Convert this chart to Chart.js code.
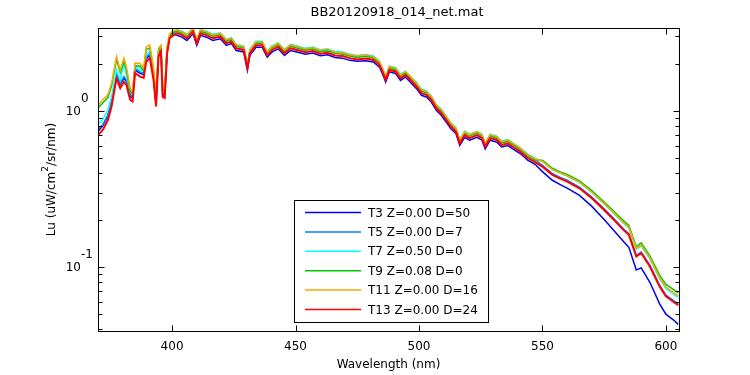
<!DOCTYPE html>
<html>
<head>
<meta charset="utf-8">
<script src="https://cdn.jsdelivr.net/npm/chart.js@4.4.1/dist/chart.umd.min.js"></script>
<style>
  html, body { margin: 0; padding: 0; background: #fff; }
  canvas { display: block; }
</style>
</head>
<body>
<canvas id="chart" width="750" height="375"></canvas>
<script>
// Wavelength grid (nm), shared by every series
const wavelengths = [370, 372, 374, 375.5, 377.5, 379, 380.5, 381.5, 383, 384, 385, 387, 388.5, 389.5, 391, 392.5, 393.5, 394.5, 395.5, 396.2, 397, 398, 399, 400.5,
  402, 404, 406, 408.5, 410, 411.5, 414, 416.5, 419.5, 422, 424, 426, 429, 430.5, 431.5, 434, 436.5, 438.5, 440.5, 443, 445.5, 448, 451, 454, 457, 460, 463, 466, 469, 472, 475, 478.5, 481.5, 484, 485.5, 486.5, 488, 490.5, 492.5, 494.5, 496.5, 499, 501, 503, 505, 507, 509, 511, 513, 515, 516.5, 518.5, 520.5, 523.5, 525.5, 526.8, 528.8, 531.5, 533.5, 536, 538, 541, 544, 547,
  550, 554, 557, 560, 565, 570, 575, 579, 583, 585, 588, 590, 593.5, 597.5, 600, 603, 605];

// Lu values (uW/cm^2/sr/nm)
const t3 = [0.74, 0.81, 0.93, 1.13, 1.70, 1.48, 1.62, 1.55, 1.24, 1.21, 1.83, 1.74, 1.71, 2.16, 2.28, 1.64, 1.10, 2.30, 2.48, 1.26, 1.24, 2.40, 2.97, 3.10,
  3.05, 2.97, 2.83, 3.12, 2.63, 3.05, 2.97, 2.83, 2.90, 2.63, 2.70, 2.44, 2.39, 1.82, 2.27, 2.56, 2.56, 2.21, 2.39, 2.50,
  2.27, 2.44, 2.38, 2.31, 2.35, 2.26, 2.29, 2.20, 2.18, 2.11, 2.08, 2.10, 2.06, 1.91, 1.69, 1.53, 1.78, 1.74, 1.57, 1.65,
  1.53, 1.39, 1.26, 1.23, 1.14, 1.01, 0.938, 0.850, 0.766, 0.715, 0.601, 0.679, 0.650, 0.679, 0.650, 0.572, 0.650, 0.632, 0.588, 0.601,
  0.572, 0.534, 0.485, 0.456,
  0.409, 0.360, 0.339, 0.321, 0.288, 0.245, 0.202, 0.171, 0.145, 0.134, 0.096, 0.099, 0.080, 0.058, 0.050, 0.046, 0.043];

const t5 = [0.76, 0.82, 0.94, 1.15, 1.74, 1.50, 1.66, 1.58, 1.27, 1.24, 1.87, 1.78, 1.75, 2.21, 2.32, 1.68, 1.14, 2.36, 2.53, 1.30, 1.28, 2.45, 3.02, 3.15,
  3.27, 3.18, 3.04, 3.35, 2.82, 3.27, 3.18, 3.04, 3.11, 2.82, 2.89, 2.62, 2.56, 1.96, 2.43, 2.75, 2.75, 2.37, 2.56, 2.68,
  2.43, 2.62, 2.55, 2.48, 2.52, 2.42, 2.45, 2.36, 2.34, 2.27, 2.23, 2.26, 2.20, 2.05, 1.81, 1.64, 1.90, 1.86, 1.68, 1.77,
  1.64, 1.49, 1.35, 1.32, 1.23, 1.08, 1.01, 0.911, 0.822, 0.766, 0.645, 0.728, 0.697, 0.728, 0.697, 0.614, 0.697, 0.678, 0.630, 0.645,
  0.614, 0.572, 0.520, 0.489,
  0.449, 0.398, 0.377, 0.360, 0.326, 0.281, 0.236, 0.204, 0.175, 0.164, 0.119, 0.125, 0.103, 0.0765, 0.0663, 0.0612, 0.0581];

const t7 = [0.82, 0.89, 1.01, 1.23, 1.83, 1.57, 2.03, 1.70, 1.33, 1.29, 1.95, 1.84, 1.80, 2.30, 2.40, 1.74, 1.17, 2.42, 2.58, 1.33, 1.31, 2.50, 3.05, 3.20,
  3.33, 3.24, 3.10, 3.41, 2.87, 3.33, 3.24, 3.10, 3.17, 2.87, 2.95, 2.67, 2.61, 1.99, 2.48, 2.80, 2.80, 2.42, 2.61, 2.73,
  2.48, 2.67, 2.60, 2.52, 2.57, 2.47, 2.50, 2.41, 2.39, 2.31, 2.27, 2.30, 2.25, 2.09, 1.84, 1.67, 1.94, 1.90, 1.72, 1.80,
  1.67, 1.52, 1.38, 1.35, 1.25, 1.10, 1.03, 0.929, 0.837, 0.781, 0.657, 0.742, 0.710, 0.742, 0.710, 0.625, 0.710, 0.691, 0.642, 0.657,
  0.625, 0.583, 0.530, 0.498,
  0.475, 0.422, 0.401, 0.383, 0.348, 0.301, 0.254, 0.220, 0.190, 0.178, 0.130, 0.137, 0.113, 0.0840, 0.0730, 0.0673, 0.0640];

const t9 = [1.04, 1.13, 1.22, 1.45, 2.14, 1.76, 2.09, 1.84, 1.35, 1.28, 1.95, 1.94, 1.81, 2.48, 2.54, 1.83, 1.20, 2.43, 2.54, 1.37, 1.35, 2.50, 3.02, 3.20,
  3.23, 3.15, 3.01, 3.32, 2.79, 3.23, 3.15, 3.01, 3.08, 2.79, 2.86, 2.60, 2.53, 1.94, 2.41, 2.72, 2.72, 2.35, 2.53, 2.66,
  2.41, 2.60, 2.52, 2.45, 2.49, 2.40, 2.43, 2.34, 2.32, 2.25, 2.20, 2.24, 2.18, 2.03, 1.79, 1.63, 1.88, 1.84, 1.67, 1.75,
  1.63, 1.47, 1.34, 1.31, 1.22, 1.07, 0.996, 0.902, 0.814, 0.759, 0.639, 0.721, 0.690, 0.721, 0.690, 0.608, 0.690, 0.672, 0.624, 0.639,
  0.608, 0.567, 0.515, 0.484,
  0.484, 0.430, 0.409, 0.392, 0.357, 0.309, 0.261, 0.227, 0.197, 0.185, 0.135, 0.143, 0.118, 0.0885, 0.0775, 0.0720, 0.0685];

const t11 = [1.08, 1.18, 1.27, 1.51, 2.23, 1.83, 2.18, 1.92, 1.40, 1.33, 2.03, 2.02, 1.88, 2.58, 2.64, 1.90, 1.25, 2.53, 2.64, 1.42, 1.40, 2.60, 3.12, 3.28,
  3.30, 3.21, 3.07, 3.38, 2.85, 3.30, 3.21, 3.07, 3.14, 2.85, 2.92, 2.65, 2.58, 1.97, 2.46, 2.77, 2.77, 2.39, 2.58, 2.71,
  2.46, 2.65, 2.57, 2.50, 2.54, 2.45, 2.48, 2.38, 2.36, 2.29, 2.25, 2.28, 2.23, 2.07, 1.83, 1.66, 1.92, 1.88, 1.70, 1.79,
  1.66, 1.50, 1.37, 1.33, 1.24, 1.09, 1.02, 0.920, 0.830, 0.774, 0.651, 0.735, 0.704, 0.735, 0.704, 0.620, 0.704, 0.685, 0.636, 0.651,
  0.620, 0.578, 0.525, 0.494,
  0.475, 0.423, 0.402, 0.385, 0.350, 0.303, 0.256, 0.222, 0.192, 0.180, 0.132, 0.139, 0.115, 0.0855, 0.0745, 0.0690, 0.0655];

const t13 = [0.70, 0.76, 0.875, 1.07, 1.62, 1.40, 1.54, 1.47, 1.18, 1.15, 1.75, 1.66, 1.63, 2.07, 2.18, 1.58, 1.07, 2.23, 2.40, 1.23, 1.21, 2.35, 2.92, 3.06,
  3.14, 3.06, 2.92, 3.22, 2.71, 3.14, 3.06, 2.92, 2.99, 2.71, 2.78, 2.52, 2.46, 1.88, 2.34, 2.64, 2.64, 2.28, 2.46, 2.58,
  2.34, 2.52, 2.45, 2.38, 2.42, 2.33, 2.36, 2.27, 2.25, 2.18, 2.14, 2.17, 2.12, 1.97, 1.74, 1.58, 1.83, 1.79, 1.62, 1.70,
  1.58, 1.43, 1.30, 1.27, 1.18, 1.04, 0.967, 0.876, 0.79, 0.737, 0.62, 0.70, 0.67, 0.70, 0.67, 0.59, 0.67, 0.652, 0.606, 0.62,
  0.59, 0.55, 0.50, 0.47,
  0.44, 0.39, 0.37, 0.353, 0.32, 0.276, 0.232, 0.20, 0.172, 0.161, 0.117, 0.123, 0.101, 0.075, 0.065, 0.060, 0.057];

const seriesNames = ['T3 Z=0.00 D=50', 'T5 Z=0.00 D=7', 'T7 Z=0.50 D=0', 'T9 Z=0.08 D=0', 'T11 Z=0.00 D=16', 'T13 Z=0.00 D=24'];
const seriesValues = [t3, t5, t7, t9, t11, t13];
const seriesColors = ['#0000f0', '#0080ff', '#00ffff', '#00c800', '#ffa500', '#ff0000'];

// axis ticks
const xTicks = [400, 450, 500, 550, 600];
const yMajorTicks = [0.1, 1];
const yMinorTicks = [0.04, 0.05, 0.06, 0.07, 0.08, 0.09, 0.2, 0.3, 0.4, 0.5, 0.6, 0.7, 0.8, 0.9, 2, 3];
const yTickLabels = [['10', '-1'], ['10', '0']];

const FONT = '"DejaVu Sans", sans-serif';

// Build the datasets; last one (red) is drawn on top like in MATLAB
const datasets = seriesValues.map((vals, i) => ({
    label: seriesNames[i],
    data: wavelengths.map((w, j) => ({ x: w, y: vals[j] })),
    borderColor: seriesColors[i],
    backgroundColor: seriesColors[i],
    borderWidth: i === seriesValues.length - 1 ? 2 : 1.5,
    pointRadius: 0,
    fill: false,
    order: seriesValues.length - i
}));

// Draws the MATLAB-ish frame, inward ticks, labels and legend box
const matlabAxes = {
    id: 'matlabAxes',
    afterDraw(chart) {
        const ctx = chart.ctx;
        const area = chart.chartArea;
        const xs = chart.scales.x;
        const ys = chart.scales.y;
        const L = Math.round(area.left) + 0.5, R = Math.round(area.right) + 0.5;
        const T = Math.round(area.top) + 0.5, B = Math.round(area.bottom) + 0.5;

        ctx.save();
        ctx.strokeStyle = '#000';
        ctx.lineWidth = 1;
        ctx.strokeRect(L, T, R - L, B - T);

        ctx.beginPath();
        xTicks.forEach(v => {
            const px = Math.round(xs.getPixelForValue(v)) + 0.5;
            ctx.moveTo(px, B); ctx.lineTo(px, B - 6);
            ctx.moveTo(px, T); ctx.lineTo(px, T + 6);
        });
        yMajorTicks.forEach(v => {
            const py = Math.round(ys.getPixelForValue(v)) + 0.5;
            ctx.moveTo(L, py); ctx.lineTo(L + 6, py);
            ctx.moveTo(R, py); ctx.lineTo(R - 6, py);
        });
        yMinorTicks.forEach(v => {
            const py = Math.round(ys.getPixelForValue(v)) + 0.5;
            ctx.moveTo(L, py); ctx.lineTo(L + 4, py);
            ctx.moveTo(R, py); ctx.lineTo(R - 4, py);
        });
        ctx.stroke();

        // y tick labels 10^-1, 10^0
        ctx.fillStyle = '#000';
        ctx.font = '12px ' + FONT;
        ctx.textBaseline = 'middle';
        yMajorTicks.forEach((v, i) => {
            const py = ys.getPixelForValue(v);
            ctx.textAlign = 'right';
            ctx.fillText(yTickLabels[i][0], 81, py + 1);
            ctx.textAlign = 'left';
            ctx.fillText(yTickLabels[i][1], 81, py - 12);
        });

        // y axis title with superscript
        ctx.save();
        ctx.translate(52, (area.top + area.bottom) / 2);
        ctx.rotate(-Math.PI / 2);
        const p1 = 'Lu (uW/cm', p2 = '2', p3 = '/sr/nm)';
        ctx.font = '12px ' + FONT;
        const w1 = ctx.measureText(p1).width, w3 = ctx.measureText(p3).width;
        ctx.font = '9px ' + FONT;
        const w2 = ctx.measureText(p2).width;
        let sx = -(w1 + w2 + w3) / 2;
        ctx.textAlign = 'left';
        ctx.font = '12px ' + FONT;
        ctx.fillText(p1, sx, 0);
        ctx.font = '9px ' + FONT;
        ctx.fillText(p2, sx + w1, -6);
        ctx.font = '12px ' + FONT;
        ctx.fillText(p3, sx + w1 + w2, 0);
        ctx.restore();

        // x axis title and chart title
        ctx.textAlign = 'center';
        ctx.font = '12px ' + FONT;
        ctx.fillText('Wavelength (nm)', (area.left + area.right) / 2, 365);
        ctx.font = '13px ' + FONT;
        ctx.fillText('BB20120918_014_net.mat', 397, 13);

        // legend box
        const bx = 294.5, by = 200.5, bw = 194, bh = 122;
        ctx.fillStyle = '#fff';
        ctx.fillRect(bx, by, bw, bh);
        ctx.strokeStyle = '#000';
        ctx.strokeRect(bx, by, bw, bh);
        ctx.font = '12px ' + FONT;
        ctx.textAlign = 'left';
        seriesNames.forEach((name, i) => {
            const ly = 212.5 + i * 19.4;
            ctx.strokeStyle = seriesColors[i];
            ctx.lineWidth = 1.5;
            ctx.beginPath();
            ctx.moveTo(305, ly); ctx.lineTo(361, ly);
            ctx.stroke();
            ctx.fillStyle = '#000';
            ctx.fillText(name, 368, ly + 1);
        });
        ctx.restore();
    }
};

new Chart(document.getElementById('chart'), {
    type: 'line',
    data: { datasets: datasets },
    options: {
        responsive: false,
        animation: false,
        events: [],
        layout: { padding: { top: 28, right: 71, left: 0, bottom: 0 } },
        plugins: {
            legend: { display: false },
            title: { display: false },
            tooltip: { enabled: false }
        },
        elements: { line: { tension: 0 }, point: { radius: 0 } },
        scales: {
            x: {
                type: 'linear',
                min: 370,
                max: 605.3,
                grid: { display: false, drawTicks: false },
                border: { display: false },
                ticks: {
                    color: '#000',
                    font: { family: FONT, size: 12 },
                    padding: 9,
                    maxRotation: 0,
                    autoSkip: false
                },
                afterBuildTicks: s => { s.ticks = xTicks.map(v => ({ value: v })); },
                afterFit: s => { s.height = 44; }
            },
            y: {
                type: 'logarithmic',
                min: 0.039,
                max: 3.4,
                grid: { display: false, drawTicks: false },
                border: { display: false },
                ticks: { display: false },
                afterFit: s => { s.width = 98; }
            }
        }
    },
    plugins: [matlabAxes]
});
</script>
</body>
</html>
